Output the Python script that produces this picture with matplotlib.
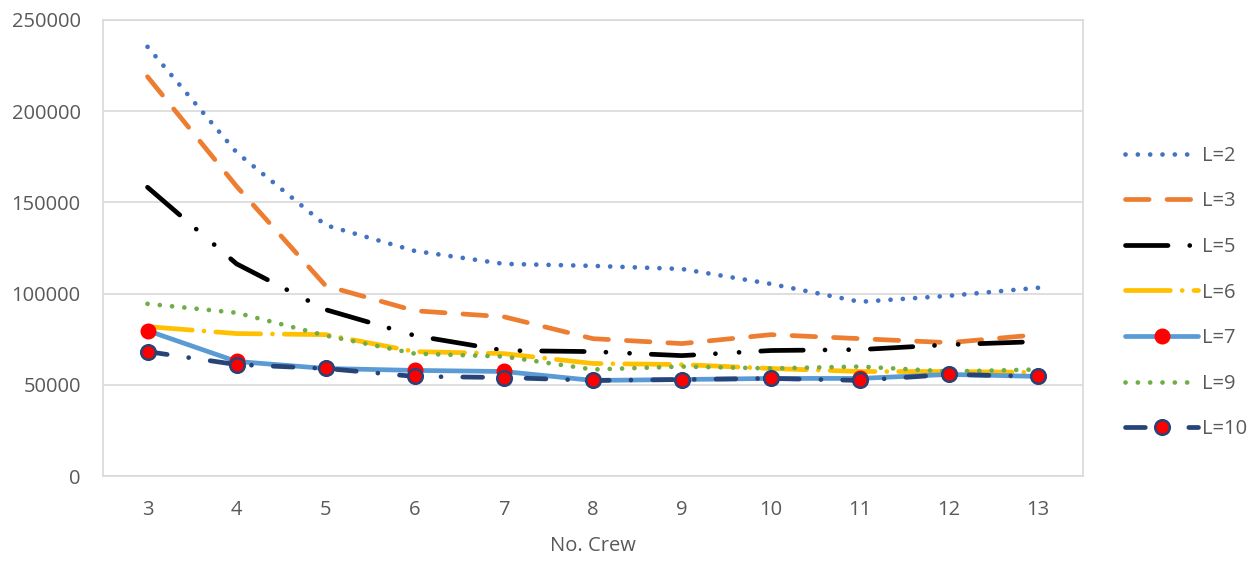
import matplotlib.pyplot as plt
import numpy as np

plt.rcParams['font.family'] = ['Open Sans', 'DejaVu Sans']

crew = [3, 4, 5, 6, 7, 8, 9, 10, 11, 12, 13]

l2 = [235300, 177400, 137500, 123400, 116300, 115200, 113500, 105300, 95500, 98800, 103200]
l3 = [218900, 158800, 104300, 90600, 87300, 75300, 72600, 77500, 75300, 73100, 77500]
l5 = [158300, 116300, 91200, 77000, 68800, 68200, 66000, 68800, 69300, 72000, 73700]
l6 = [81900, 78100, 77500, 68200, 67100, 61700, 61100, 58950, 57300, 57300, 56800]
l7 = [79700, 62800, 58950, 57900, 57300, 52400, 52900, 53500, 53500, 55700, 54600]
l9 = [94400, 89500, 77000, 67100, 65500, 58400, 60000, 59000, 60000, 57300, 58400]
l10 = [68200, 61100, 58950, 54600, 54000, 52400, 52900, 53500, 52400, 55700, 54600]

fig = plt.figure(figsize=(12.56, 5.63), dpi=100)
ax = fig.add_axes([0.082, 0.1545, 0.78, 0.81])

lw = 3.4
ax.plot(crew, l2, color='#4472C4', lw=lw, linestyle=(0, (0.01, 2.6)),
        dash_capstyle='round', label='L=2')
ax.plot(crew, l3, color='#ED7D31', lw=lw, linestyle=(0, (5.0, 3.8)),
        dash_capstyle='round', label='L=3')
ax.plot(crew, l5, color='black', lw=lw, linestyle=(0, (9.0, 4.6, 0.01, 5.0, 0.01, 4.6)),
        dash_capstyle='round', label='L=5')
ax.plot(crew, l6, color='#FFC000', lw=lw, linestyle=(0, (9.5, 2.5, 0.01, 2.5)),
        dash_capstyle='round', label='L=6')
ax.plot(crew, l7, color='#5B9BD5', lw=lw, solid_capstyle='round', marker='o',
        markersize=10.5, markerfacecolor='#FF0000', markeredgecolor='#FF0000', label='L=7')
ax.plot(crew, l9, color='#70AD47', lw=lw, linestyle=(0, (0.01, 2.6)),
        dash_capstyle='round', label='L=9')
ax.plot(crew, l10, color='#264478', lw=lw, linestyle=(0, (4.2, 4.6, 0.01, 4.6)),
        dash_capstyle='round', marker='o', markersize=10.5,
        markerfacecolor='#FF0000', markeredgecolor='#264478', markeredgewidth=1.8,
        label='L=10')

ax.set_xlim(2.5, 13.5)
ax.set_ylim(0, 250000)
ax.set_xticks(crew)
ax.set_yticks(np.arange(0, 250001, 50000))
ax.grid(axis='y', color='#D9D9D9', lw=1.2)
ax.set_axisbelow(True)
for sp in ax.spines.values():
    sp.set_color('#D9D9D9')
    sp.set_linewidth(1.2)
ax.tick_params(axis='y', length=0, labelsize=14.5, labelcolor='#595959', pad=16)
ax.tick_params(axis='x', length=0, labelsize=14.5, labelcolor='#595959', pad=17)
ax.set_xlabel('No. Crew', fontsize=14.5, color='#595959', labelpad=12)

fig.legend(loc='upper left', bbox_to_anchor=(0.896, 0.741),
           bbox_transform=fig.transFigure, frameon=False, borderpad=0,
           borderaxespad=0, fontsize=14.5, labelcolor='#595959',
           handlelength=3.6, labelspacing=1.27, handletextpad=0.2, numpoints=1)

fig.savefig('out.png', dpi=100)
